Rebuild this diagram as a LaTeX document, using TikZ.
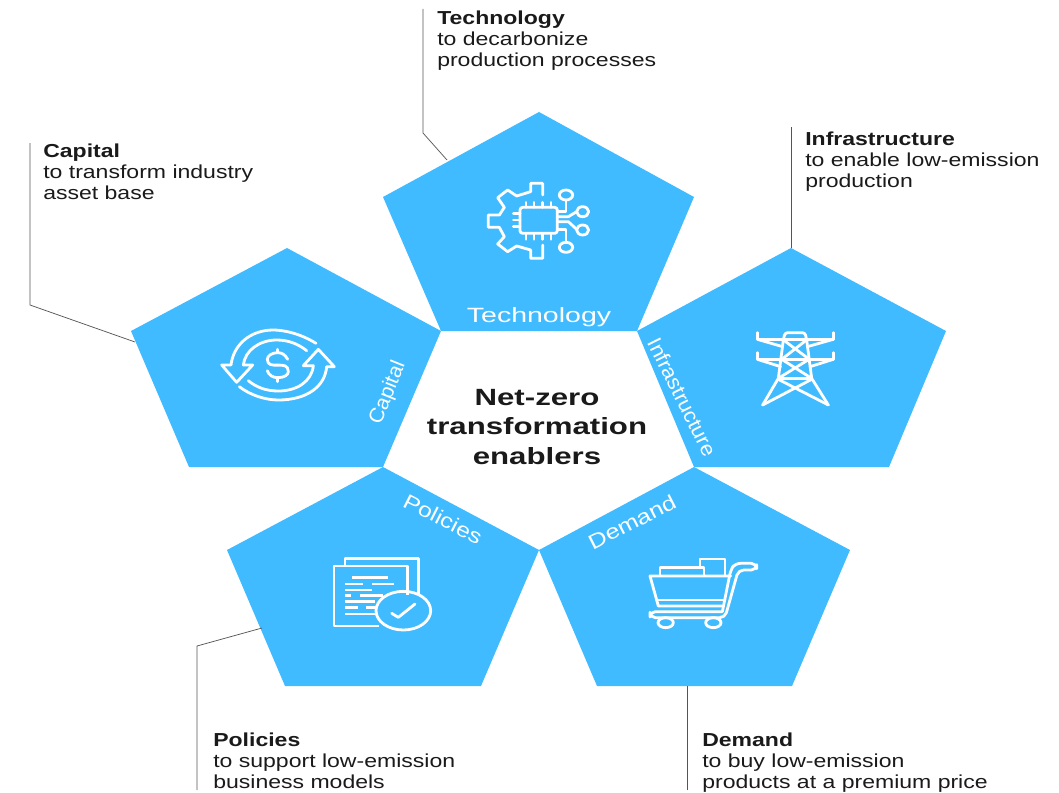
\documentclass[tikz,border=0pt]{standalone}
\usepackage{fontspec}
\setmainfont{Liberation Sans}
\newfontfamily\capfont[FakeStretch=1.225]{Liberation Sans}
\newfontfamily\midfont[FakeStretch=1.33]{Liberation Sans}
\newfontfamily\techfont[FakeStretch=1.38]{Liberation Sans}
\newfontfamily\capitalfont[FakeStretch=1.02]{Liberation Sans}
\newfontfamily\inffont[FakeStretch=1.06]{Liberation Sans}
\newfontfamily\polfont[FakeStretch=1.2]{Liberation Sans}
\newfontfamily\demfont[FakeStretch=1.22]{Liberation Sans}
\definecolor{penta}{HTML}{40BBFF}
\definecolor{leader}{HTML}{555555}
\definecolor{ink}{HTML}{1A1A1A}
\newcommand{\lowline}{\vphantom{p}}
\tikzset{
  penta/.style={fill=penta,draw=none},
  leaderline/.style={draw=leader,line width=0.55pt},
  caption/.style={anchor=west,align=left,inner sep=0pt,text=ink,font=\capfont\fontsize{14.1pt}{15.75pt}\selectfont},
  seglabel/.style={text=white,inner sep=0pt,font=\fontsize{15.5pt}{18pt}\selectfont},
  centre/.style={align=center,inner sep=0pt,text=ink,font=\midfont\fontsize{17.6pt}{21.8pt}\selectfont\bfseries},
  icon/.style={draw=white,line width=2.1pt,line join=round,line cap=round},
}
\begin{document}
\begin{tikzpicture}[x=0.75pt,y=-0.75pt]
\useasboundingbox (0,0) rectangle (1059,792);
% pentagons
\path[penta] (539,112)--(694,197)--(637,331)--(441,331)--(383,197)--cycle;
\path[penta] (287,248)--(441,331)--(383,467)--(189,467)--(131,331)--cycle;
\path[penta] (791,248)--(946,331)--(889,467)--(694,467)--(637,331)--cycle;
\path[penta] (383,467)--(539,550)--(481,686)--(285,686)--(227,550)--cycle;
\path[penta] (694,467)--(850,550)--(792,686)--(597,686)--(539,550)--cycle;
% connector coordinates
\coordinate (techA) at (423,9);\coordinate (techB) at (423,133);\coordinate (techC) at (447,160);
\coordinate (capA) at (30,143);\coordinate (capB) at (30,305);\coordinate (capC) at (135,342);
\coordinate (infA) at (791,127);\coordinate (infC) at (791,248);
\coordinate (polA) at (197,790);\coordinate (polB) at (197,646);\coordinate (polC) at (262,628);
\coordinate (demA) at (687,790);\coordinate (demC) at (687,686);
\draw[leaderline] (techA)--(techB)--(techC);
\draw[leaderline] (capA)--(capB)--(capC);
\draw[leaderline] (infA)--(infC);
\draw[leaderline] (polA)--(polB)--(polC);
\draw[leaderline] (demA)--(demC);
% captions
\node[caption] (capTech) at (437,40.5) {\textbf{Technology}\\to decarbonize\\production processes\lowline};
\node[caption] (capCap) at (43,173.5) {\textbf{Capital}\\to transform industry\\asset base\lowline};
\node[caption] (capInf) at (805,161.5) {\textbf{Infrastructure}\\to enable low-emission\\production\lowline};
\node[caption] (capPol) at (213,762.5) {\textbf{Policies}\\to support low-emission\\business models\lowline};
\node[caption] (capDem) at (702,762.5) {\textbf{Demand}\\to buy low-emission\\products at a premium price\lowline};
% centre
\node[centre] (centre) at (537,427) {Net-zero\\transformation\\enablers};
% segment labels
\node[seglabel] (lblTech) at (539,317.5) {\techfont Technology};
\node[seglabel,rotate=68] (lblCap) at (388,393) {\capitalfont Capital};
\node[seglabel,rotate=-63.5] (lblInf) at (682,397) {\inffont Infrastructure};
\node[seglabel,rotate=-27] (lblPol) at (443,519) {\polfont Policies};
\node[seglabel,rotate=27] (lblDem) at (632,522) {\demfont Demand};
% technology icon
\begin{scope}[shift={(470,170)},scale=1/3,icon]
\draw (218,75)--(218,40)--(182,40)--(182,65)--(140,78)--(113,60)--(83,83)--(103,112)--(88,135)--(55,135)--(55,172)--(88,172)--(103,200)--(83,222)--(113,245)--(140,228)--(182,240)--(182,265)--(218,265)--(218,225);
\draw[rounded corners=2pt] (150,112) rectangle (262,190);
\foreach \p in {168,192,218,243}{\draw (\p,97)--(\p,112);\draw (\p,190)--(\p,208);}
\foreach \p in {130,150,170}{\draw (130,\p)--(150,\p);}
\draw (288,75) ellipse [x radius=20,y radius=15];
\draw (338,125) ellipse [x radius=18,y radius=15];
\draw (338,180) ellipse [x radius=18,y radius=15];
\draw (288,232) ellipse [x radius=20,y radius=15];
\draw (288,90)--(288,125)--(262,125);
\draw (320,125)--(295,140)--(262,140);
\draw (320,178)--(295,155)--(262,155);
\draw (288,217)--(288,178)--(262,178);
\end{scope}
% capital icon
\begin{scope}[shift={(210,320)},scale=1/3,icon]
\draw (318,70) .. controls (270,40) and (220,30) .. (190,30) .. controls (120,30) and (70,75) .. (63,135)--(35,135)--(80,187)--(128,135)--(100,135) .. controls (105,90) and (150,60) .. (200,60) .. controls (235,60) and (265,72) .. (290,92);
\draw (88,200) .. controls (120,225) and (165,240) .. (205,240) .. controls (290,240) and (345,200) .. (350,140)--(373,140)--(325,88)--(280,137)--(310,137) .. controls (305,185) and (260,213) .. (205,213) .. controls (170,213) and (140,203) .. (115,182);
\draw (233,118) .. controls (225,103) and (215,98) .. (203,98) .. controls (185,98) and (172,108) .. (172,118) .. controls (172,155) and (235,115) .. (235,155) .. controls (235,165) and (222,173) .. (203,173) .. controls (188,173) and (176,165) .. (172,152);
\draw (203,88)--(203,98) (203,173)--(203,185);
\end{scope}
% tower icon
\begin{scope}[shift={(740,320)},scale=1/3,icon]
\draw[rounded corners=2pt] (130,60)--(135,38)--(195,38)--(200,60);
\draw (130,60)--(115,175)--(68,255);
\draw (200,60)--(215,175)--(265,255);
\draw (52,38)--(52,58)--(280,58)--(280,38);
\draw (52,58)--(128,80) (280,58)--(202,80);
\draw (52,98)--(52,118)--(280,118)--(280,98);
\draw (52,118)--(122,140) (280,118)--(210,140);
\draw (133,62)--(208,118) (197,62)--(125,118);
\draw (125,118)--(215,175) (207,118)--(115,175);
\draw (115,175)--(215,175);
\draw (115,178)--(265,255) (215,178)--(68,255);
\end{scope}
% policies icon
\begin{scope}[shift={(320,545)},scale=1/3,icon,line cap=butt]
\draw (75,63)--(75,40)--(295,40)--(295,150);
\draw (262,150)--(262,63)--(42,63)--(42,243)--(178,243);
\draw (97,98)--(205,98) (75,117)--(130,117) (155,117)--(222,117);
\draw (75,135)--(155,135) (75,152)--(92,152) (120,152)--(190,152);
\draw (75,170)--(165,170) (75,188)--(115,188) (138,188)--(165,188) (75,207)--(170,207);
\draw (250,197) ellipse [x radius=82,y radius=58];
\draw[line cap=round] (215,205)--(235,217)--(285,177);
\end{scope}
% cart icon
\begin{scope}[shift={(640,545)},scale=1/3,icon]
\draw (60,90)--(60,67)--(192,67)--(192,90);
\draw (180,67)--(180,42)--(255,42)--(255,90);
\draw (272,93)--(30,93)--(55,183)--(250,183);
\draw (50,165)--(255,165);
\draw[rounded corners=4pt] (247,200)--(30,200)--(30,218)--(255,218)--(295,75)--(350,75)--(350,55)--(285,55)--(272,75)--(247,200);
\draw (77,233) ellipse [x radius=23,y radius=15];
\draw (220,233) ellipse [x radius=23,y radius=15];
\end{scope}
\end{tikzpicture}
\end{document}
